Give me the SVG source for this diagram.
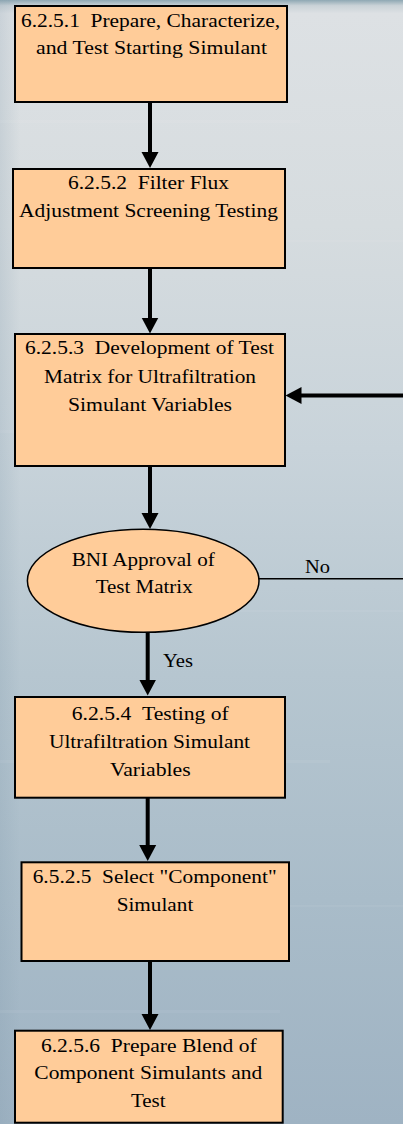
<svg xmlns="http://www.w3.org/2000/svg" width="403" height="1124" viewBox="0 0 403 1124">
  <defs>
    <linearGradient id="bg" x1="0" y1="0" x2="0" y2="1">
      <stop offset="0" stop-color="#8ea8b3"/>
      <stop offset="0.005" stop-color="#c9d2d7"/>
      <stop offset="0.012" stop-color="#dde1e4"/>
      <stop offset="0.2" stop-color="#d6dcdf"/>
      <stop offset="0.4" stop-color="#c8d3da"/>
      <stop offset="0.6" stop-color="#b6c6d0"/>
      <stop offset="0.8" stop-color="#a9bcc9"/>
      <stop offset="1" stop-color="#9fb3c3"/>
    </linearGradient>
    <linearGradient id="edge" x1="0" y1="0" x2="1" y2="0">
      <stop offset="0" stop-color="#7f98aa" stop-opacity="0.2"/>
      <stop offset="0.05" stop-color="#7f98aa" stop-opacity="0"/>
    </linearGradient>
    <marker id="head" markerUnits="userSpaceOnUse" markerWidth="17" markerHeight="18" refX="6" refY="9" orient="auto">
      <path d="M0,0.5 L16,9 L0,17.5 Z" fill="#000"/>
    </marker>
  </defs>
  <style>
    .box { fill: #ffcc99; stroke: #000; stroke-width: 2; }
    .dec { fill: #ffcc99; stroke: #000; stroke-width: 1.5; }
    .lbl { text-anchor: middle; }
    .flow { fill: none; stroke: #000; stroke-width: 4; marker-end: url(#head); }
    .thin { fill: none; stroke: #000; stroke-width: 1.5; }
  </style>

  <!-- background -->
  <rect x="0" y="0" width="403" height="1124" fill="url(#bg)"/>
  <rect x="0" y="0" width="403" height="1124" fill="url(#edge)"/>
  <g fill="#ffffff" opacity="0.05">
    <rect x="0" y="120" width="300" height="3"/>
    <rect x="40" y="240" width="363" height="2"/>
    <rect x="0" y="430" width="260" height="3"/>
    <rect x="120" y="610" width="283" height="2"/>
    <rect x="0" y="760" width="330" height="3"/>
    <rect x="60" y="905" width="343" height="2"/>
    <rect x="0" y="1010" width="280" height="3"/>
  </g>

  <g font-family="Liberation Serif, serif" font-size="19" fill="#000">
  <!-- connectors -->
  <g id="connectors">
    <line class="flow" x1="150" y1="102" x2="150" y2="158"/>
    <line class="flow" x1="150" y1="268" x2="150" y2="323.5"/>
    <line class="flow" x1="150" y1="466" x2="150" y2="519"/>
    <line class="flow" x1="147.7" y1="632" x2="147.7" y2="685.5"/>
    <line class="flow" x1="147.7" y1="797.7" x2="147.7" y2="851"/>
    <line class="flow" x1="150" y1="962" x2="150" y2="1020"/>
    <path class="thin" d="M259,578.7 H420 V395.5"/>
    <line class="flow" x1="420" y1="395.5" x2="295.5" y2="395.5"/>
    <text x="305" y="573" textLength="25" lengthAdjust="spacingAndGlyphs">No</text>
    <text x="163" y="666.5" textLength="30" lengthAdjust="spacingAndGlyphs">Yes</text>
  </g>

  <g id="n1">
    <rect class="box" x="15" y="6" width="272" height="96"/>
    <text class="lbl" x="150.5" y="27" textLength="259" lengthAdjust="spacingAndGlyphs">6.2.5.1 &#160;Prepare, Characterize,</text>
    <text class="lbl" x="151.5" y="54" textLength="231" lengthAdjust="spacingAndGlyphs">and Test Starting Simulant</text>
  </g>

  <g id="n2">
    <rect class="box" x="13" y="169" width="272" height="99"/>
    <text class="lbl" x="148.5" y="189" textLength="161" lengthAdjust="spacingAndGlyphs">6.2.5.2 &#160;Filter Flux</text>
    <text class="lbl" x="148.5" y="216.5" textLength="259" lengthAdjust="spacingAndGlyphs">Adjustment Screening Testing</text>
  </g>

  <g id="n3">
    <rect class="box" x="15" y="334" width="270" height="132"/>
    <text class="lbl" x="149.5" y="354" textLength="249" lengthAdjust="spacingAndGlyphs">6.2.5.3 &#160;Development of Test</text>
    <text class="lbl" x="150" y="382.5" textLength="212" lengthAdjust="spacingAndGlyphs">Matrix for Ultrafiltration</text>
    <text class="lbl" x="150" y="410.5" textLength="164" lengthAdjust="spacingAndGlyphs">Simulant Variables</text>
  </g>

  <g id="d1">
    <ellipse class="dec" cx="143.2" cy="580.8" rx="115.8" ry="51.5"/>
    <text class="lbl" x="143.3" y="565.5" textLength="143" lengthAdjust="spacingAndGlyphs">BNI Approval of</text>
    <text class="lbl" x="144.2" y="593" textLength="97" lengthAdjust="spacingAndGlyphs">Test Matrix</text>
  </g>

  <g id="n4">
    <rect class="box" x="15" y="697" width="270" height="100.7"/>
    <text class="lbl" x="150.3" y="720" textLength="157" lengthAdjust="spacingAndGlyphs">6.2.5.4 &#160;Testing of</text>
    <text class="lbl" x="149.5" y="748" textLength="201" lengthAdjust="spacingAndGlyphs">Ultrafiltration Simulant</text>
    <text class="lbl" x="150.3" y="776" textLength="80.7" lengthAdjust="spacingAndGlyphs">Variables</text>
  </g>

  <g id="n5">
    <rect class="box" x="21.5" y="862.3" width="267.5" height="98.7"/>
    <text class="lbl" x="154.7" y="882.5" textLength="244" lengthAdjust="spacingAndGlyphs">6.5.2.5 &#160;Select "Component"</text>
    <text class="lbl" x="155" y="910.5" textLength="76.6" lengthAdjust="spacingAndGlyphs">Simulant</text>
  </g>

  <g id="n6">
    <rect class="box" x="15" y="1030.7" width="267.7" height="92"/>
    <text class="lbl" x="148.8" y="1051.5" textLength="215.7" lengthAdjust="spacingAndGlyphs">6.2.5.6 &#160;Prepare Blend of</text>
    <text class="lbl" x="148.3" y="1079" textLength="228" lengthAdjust="spacingAndGlyphs">Component Simulants and</text>
    <text class="lbl" x="148.3" y="1106.5" textLength="34.7" lengthAdjust="spacingAndGlyphs">Test</text>
  </g>
  </g>
</svg>
